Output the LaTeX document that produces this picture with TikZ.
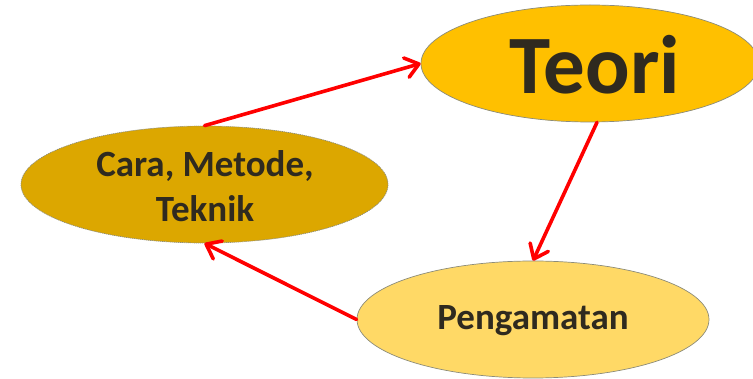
\documentclass[tikz,border=0pt]{standalone}
\usepackage{fontspec}
\setmainfont{Carlito}
\usetikzlibrary{shapes.geometric,arrows.meta,calc}
\definecolor{txt}{HTML}{2F2A1F}
\definecolor{teorifill}{HTML}{FFC000}
\definecolor{carafill}{HTML}{DCA700}
\definecolor{pengfill}{HTML}{FFD966}
\definecolor{edge}{HTML}{8C8C7A}
\tikzset{
  oval/.style={ellipse, inner sep=0pt, draw=edge, line width=0.7pt},
  redarrow/.style={draw={rgb,255:red,255;green,0;blue,0}, line width=3.6pt, line cap=round,
    -{Straight Barb[length=13pt,width=20pt,line cap=round,line join=round]}},
  lbl/.style={text=txt, font=\bfseries, align=center}
}
\begin{document}
\begin{tikzpicture}[x=1pt,y=-1pt]
\useasboundingbox (0,0) rectangle (753,379);
\node[oval, fill=teorifill, minimum width=338pt, minimum height=117pt] (teori) at (590,63.5) {};
\node[lbl, font=\bfseries\fontsize{83}{90}\selectfont] (teoritext) at (595,65) {Teori};
\node[oval, fill=carafill, dashed, dash pattern=on 1.2pt off 0.8pt, minimum width=367pt, minimum height=117pt] (cara) at (204.5,184.5) {};
\node[lbl, font=\bfseries\fontsize{37}{45}\selectfont] (caratext) at (205,186) {Cara, Metode,\\Teknik};
\node[oval, fill=pengfill, minimum width=352pt, minimum height=117pt] (peng) at (533,319.5) {};
\node[lbl, font=\bfseries\fontsize{37}{45}\selectfont] (pengtext) at (533,321) {Pengamatan};
\draw[redarrow] (cara.north) -- (teori.west);
\draw[redarrow] ($(teori.south)+(7,0)$) -- (peng.north);
\draw[redarrow] (peng.west) -- (cara.south);
\end{tikzpicture}
\end{document}
